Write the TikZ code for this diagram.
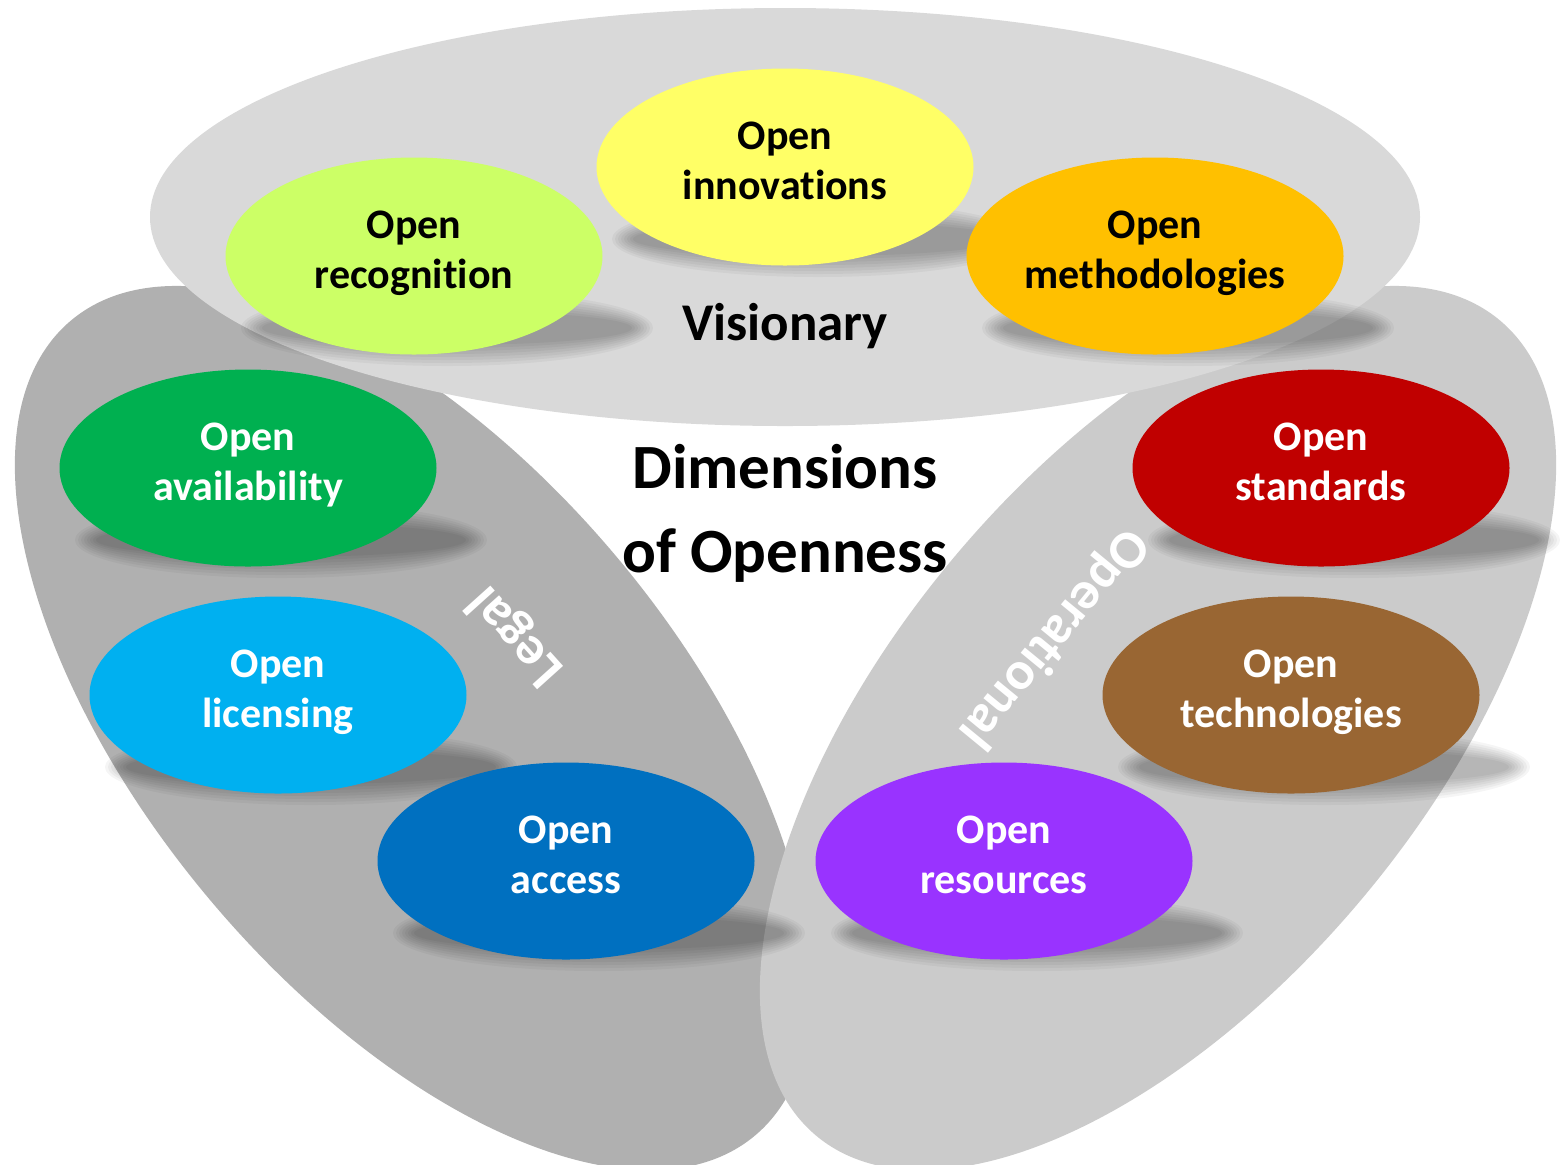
\documentclass[tikz,border=0pt]{standalone}
\usepackage{fontspec}
\setmainfont{Carlito}[Ligatures={NoCommon,NoDiscretionary}]
\usetikzlibrary{shapes.geometric}
\definecolor{cTop}{HTML}{D9D9D9}
\definecolor{cLeft}{HTML}{B0B0B0}
\definecolor{cRight}{HTML}{CBCBCB}
\definecolor{cRecog}{HTML}{CCFF66}
\definecolor{cInnov}{HTML}{FFFF66}
\definecolor{cMeth}{HTML}{FFC000}
\definecolor{cAvail}{HTML}{00B050}
\definecolor{cLic}{HTML}{00B0F0}
\definecolor{cAcc}{HTML}{0070C0}
\definecolor{cStd}{HTML}{C00000}
\definecolor{cTech}{HTML}{996633}
\definecolor{cRes}{HTML}{9933FF}
\newcommand{\bst}{\rule[-9pt]{0pt}{25pt}}
\newcommand{\tst}{\rule[-19pt]{0pt}{38pt}}
\newcommand{\softshadow}[2]{%
  \foreach \k in {0,...,7}{%
    \fill[black, opacity=0.04] ({#1+33},{#2+72}) ellipse [x radius={206-3*\k}, y radius={38-3*\k}];%
  }}
\tikzset{
  bubble/.style={ellipse, minimum width=188.5pt, minimum height=98.5pt, inner sep=0pt,
    align=center, font=\bfseries\fontsize{21}{25}\selectfont},
  darktext/.style={text=black},
  lighttext/.style={text=white},
  sidelabel/.style={inner sep=0pt, text=white, font=\bfseries\fontsize{27}{32}\selectfont},
}
\begin{document}
\begin{tikzpicture}[x=0.5pt,y=-0.5pt]
\fill[white] (0,0) rectangle (1561,1164);
\useasboundingbox (0,0) rectangle (1561,1164);
% big group ellipses
\fill[cLeft, rotate around={-50:(413,728)}] (413,728) ellipse [x radius=532, y radius=266];
\fill[cRight, rotate around={50:(1158,728)}] (1158,728) ellipse [x radius=532, y radius=266];
\fill[cTop] (785,217) ellipse [x radius=635, y radius=209];
% group labels
\node[anchor=base, inner sep=0pt, font=\bfseries\fontsize{26.5}{32}\selectfont] (visionary) at (785,340) {Visionary};
\node[sidelabel, rotate=132] (legal) at (516,636) {Legal};
\node[sidelabel, rotate=230.6] (operational) at (1053,638) {Operational};
\node[inner sep=0pt, align=center, font=\bfseries\fontsize{31.5}{38}\selectfont] (title) at (785,527) {\tst Dimensions\\\tst of Openness};
% bubbles
\softshadow{785}{167}
\node[bubble, fill=cInnov, darktext] (innov) at (785,167) {\bst Open\\\bst innovations};
\softshadow{414}{256}
\node[bubble, fill=cRecog, darktext] (recog) at (414,256) {\bst Open\\\bst recognition};
\softshadow{1155}{256}
\node[bubble, fill=cMeth, darktext] (meth) at (1155,256) {\bst Open\\\bst methodologies};
\softshadow{248}{468}
\node[bubble, fill=cAvail, lighttext] (avail) at (248,468) {\bst Open\\\bst availability};
\softshadow{278}{695}
\node[bubble, fill=cLic, lighttext] (lic) at (278,695) {\bst Open\\\bst licensing};
\softshadow{566}{861}
\node[bubble, fill=cAcc, lighttext] (acc) at (566,861) {\bst Open\\\bst access};
\softshadow{1321}{468}
\node[bubble, fill=cStd, lighttext] (std) at (1321,468) {\bst Open\\\bst standards};
\softshadow{1291}{695}
\node[bubble, fill=cTech, lighttext] (tech) at (1291,695) {\bst Open\\\bst technologies};
\softshadow{1004}{861}
\node[bubble, fill=cRes, lighttext] (res) at (1004,861) {\bst Open\\\bst resources};
\end{tikzpicture}
\end{document}
